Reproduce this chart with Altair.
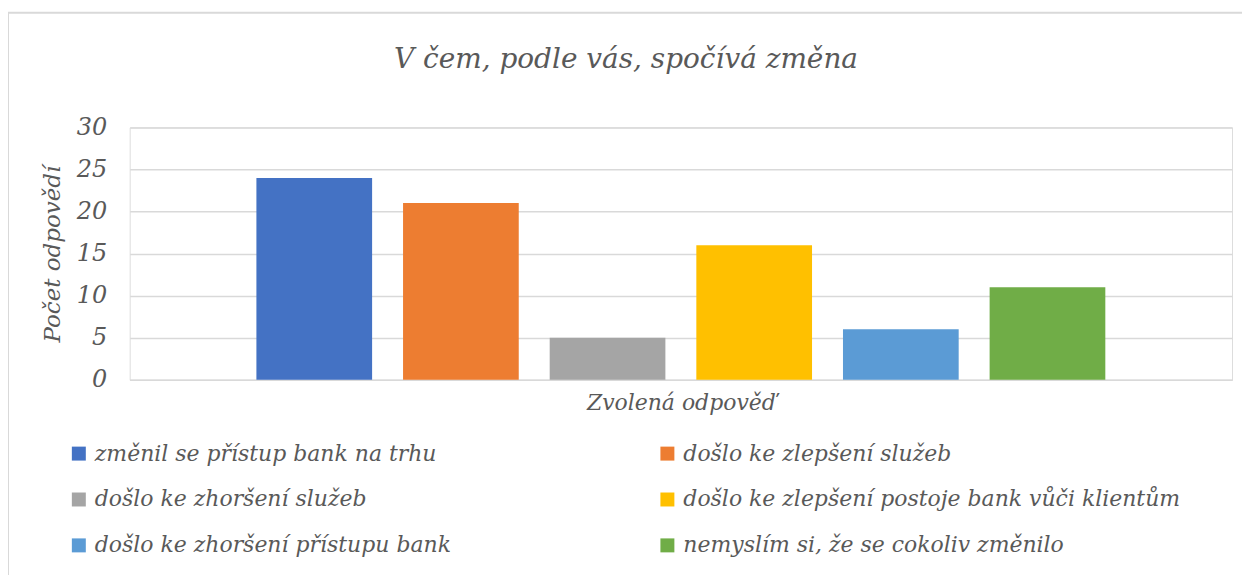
import altair as alt
import pandas as pd

categories = [
    "změnil se přístup bank na trhu",
    "došlo ke zlepšení služeb",
    "došlo ke zhoršení služeb",
    "došlo ke zlepšení postoje bank vůči klientům",
    "došlo ke zhoršení přístupu bank",
    "nemyslím si, že se cokoliv změnilo",
]
values = [24, 21, 5, 16, 6, 11]
colors = ["#4472C4", "#ED7D31", "#A5A5A5", "#FFC000", "#5B9BD5", "#70AD47"]

legend_order = [0, 2, 4, 1, 3, 5]
legend_domain = [categories[i] for i in legend_order]
legend_range = [colors[i] for i in legend_order]

df = pd.DataFrame({"odpoved": categories, "pocet": values})

FONT = "DejaVu Serif"
TXT = "#595959"

bars = alt.Chart(df).mark_bar().encode(
    x=alt.X(
        "odpoved:N",
        sort=categories,
        scale=alt.Scale(paddingInner=0.211, paddingOuter=0.864),
        axis=alt.Axis(
            title="Zvolená odpověď",
            labels=False,
            ticks=False,
            domain=True,
            domainColor="#d9d9d9",
            titleFont=FONT,
            titleFontStyle="italic",
            titleFontWeight="normal",
            titleFontSize=22,
            titleColor=TXT,
            titlePadding=13,
        ),
    ),
    y=alt.Y(
        "pocet:Q",
        scale=alt.Scale(domain=[0, 30]),
        axis=alt.Axis(
            title="Počet odpovědí",
            values=[0, 5, 10, 15, 20, 25, 30],
            domain=False,
            ticks=False,
            grid=True,
            gridColor="#d9d9d9",
            gridWidth=1.5,
            labelFont=FONT,
            labelFontStyle="italic",
            labelFontSize=24,
            labelColor=TXT,
            labelPadding=23,
            titleFont=FONT,
            titleFontStyle="italic",
            titleFontWeight="normal",
            titleFontSize=23,
            titleColor=TXT,
            titlePadding=12,
        ),
    ),
    color=alt.Color(
        "odpoved:N",
        scale=alt.Scale(domain=legend_domain, range=legend_range),
        legend=alt.Legend(
            title=None,
            orient="none",
            legendX=-62,
            legendY=316,
            columns=2,
            columnPadding=205,
            rowPadding=24,
            padding=0,
            symbolType="square",
            symbolSize=196,
            symbolStrokeWidth=0,
            labelFont=FONT,
            labelFontStyle="italic",
            labelFontSize=22,
            labelColor=TXT,
            labelOffset=5,
            labelLimit=800,
        ),
    ),
)

border = alt.Chart(pd.DataFrame({"k": [0]})).mark_rule(color="#d9d9d9", strokeWidth=2).encode(
    x=alt.value(-122), x2=alt.value(1125), y=alt.value(-115)
)
border2 = alt.Chart(pd.DataFrame({"k": [0]})).mark_rule(color="#d9d9d9", strokeWidth=2).encode(
    x=alt.value(-122), y=alt.value(-115), y2=alt.value(460)
)

chart = alt.layer(border, border2, bars).properties(
    width=1105,
    height=253,
    padding={"left": 122, "top": 119, "right": 10, "bottom": 195},
    autosize=alt.AutoSizeParams(type="none"),
    title=alt.TitleParams(
        "V čem, podle vás, spočívá změna",
        font=FONT,
        fontStyle="italic",
        fontWeight="normal",
        fontSize=28,
        color=TXT,
        anchor="middle",
        dx=-55,
        offset=-62,
    ),
).configure_view(stroke=None).configure(background="white")

chart.save("out.html", embed_options={"renderer": "svg", "actions": False})
